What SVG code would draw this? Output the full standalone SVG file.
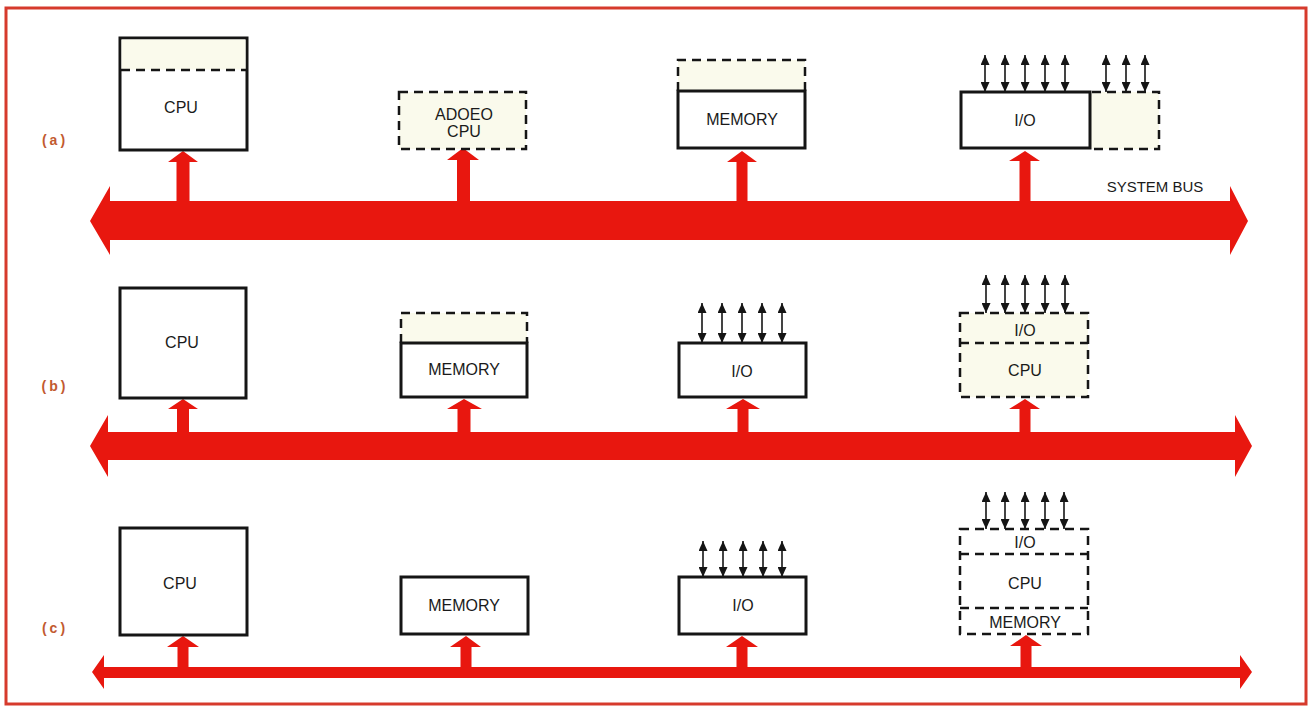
<svg xmlns="http://www.w3.org/2000/svg" width="1313" height="707" viewBox="0 0 1313 707">
<style>
.solid{fill:#fff;stroke:#151515;stroke-width:3}
.cream{fill:#fafaec;stroke:none}
.dash{fill:none;stroke:#151515;stroke-width:2.5;stroke-dasharray:9 6}
.lbl{font-family:"Liberation Sans",Arial,sans-serif;font-size:16px;fill:#1a1a1a;text-anchor:middle}
.row{font-family:"Liberation Sans",Arial,sans-serif;font-size:14px;fill:#c25a30;text-anchor:middle;letter-spacing:3px;font-weight:bold}
.bus{fill:#e8170f}
.io{stroke:#151515;stroke-width:1.6;marker-start:url(#ah);marker-end:url(#ah)}
</style>
<defs>
<marker id="ah" markerUnits="userSpaceOnUse" markerWidth="10" markerHeight="9" refX="10" refY="4.5" orient="auto-start-reverse">
<path d="M0,0 L10,4.5 L0,9 z" fill="#151515"/>
</marker>
</defs>
<rect x="6" y="8" width="1300" height="696" fill="#fff" stroke="#d63a2c" stroke-width="3"/>

<g id="row-labels">
<text class="row" x="55" y="145">(a)</text>
<text class="row" x="55" y="391">(b)</text>
<text class="row" x="55" y="633">(c)</text>
</g>

<g id="connectors">
<!-- buses -->
<polygon class="bus" points="90,221 110,186 110,201 1230,201 1230,186 1248,221 1230,255 1230,240 110,240 110,255"/>
<polygon class="bus" points="90,446 108,415 108,432 1235,432 1235,415 1252,446 1235,477 1235,460 108,460 108,477"/>
<polygon class="bus" points="92,672 104,655 104,667 1240,667 1240,655 1252,672 1240,689 1240,678 104,678 104,689"/>
<!-- row a stubs -->
<polygon class="bus" points="183,151 198,162 189.5,162 189.5,202 176.5,202 176.5,162 168,162"/>
<polygon class="bus" points="463,148 479,160 470,160 470,202 457,202 457,160 447,160"/>
<polygon class="bus" points="742,151 757,162 747.5,162 747.5,202 736.5,202 736.5,162 727,162"/>
<polygon class="bus" points="1025,151 1040,161 1030.5,161 1030.5,202 1019.5,202 1019.5,161 1009,161"/>
<!-- row b stubs -->
<polygon class="bus" points="183,399 198,409 189,409 189,433 177,433 177,409 168,409"/>
<polygon class="bus" points="464,399 482,409 470.5,409 470.5,433 457.5,433 457.5,409 447,409"/>
<polygon class="bus" points="743,399 760,409 748.5,409 748.5,433 737.5,433 737.5,409 726,409"/>
<polygon class="bus" points="1025,399 1040,409 1030.5,409 1030.5,433 1019.5,433 1019.5,409 1009,409"/>
<!-- row c stubs -->
<polygon class="bus" points="183,636 199,647 188.5,647 188.5,668 177.5,668 177.5,647 167,647"/>
<polygon class="bus" points="466,636 481,647 471.5,647 471.5,668 460.5,668 460.5,647 450,647"/>
<polygon class="bus" points="742,636 758,647 747.5,647 747.5,668 736.5,668 736.5,647 726,647"/>
<polygon class="bus" points="1026,635 1042,646 1031.5,646 1031.5,668 1020.5,668 1020.5,646 1010,646"/>
<!-- io lines a -->
<line class="io" x1="985" y1="92" x2="985" y2="55"/>
<line class="io" x1="1005" y1="92" x2="1005" y2="55"/>
<line class="io" x1="1025" y1="92" x2="1025" y2="55"/>
<line class="io" x1="1045" y1="92" x2="1045" y2="55"/>
<line class="io" x1="1065" y1="92" x2="1065" y2="55"/>
<line class="io" x1="1106" y1="92" x2="1106" y2="55"/>
<line class="io" x1="1126" y1="92" x2="1126" y2="55"/>
<line class="io" x1="1145" y1="92" x2="1145" y2="55"/>
<!-- io lines b -->
<line class="io" x1="702" y1="343" x2="702" y2="303"/>
<line class="io" x1="722" y1="343" x2="722" y2="303"/>
<line class="io" x1="742" y1="343" x2="742" y2="303"/>
<line class="io" x1="762" y1="343" x2="762" y2="303"/>
<line class="io" x1="782" y1="343" x2="782" y2="303"/>
<line class="io" x1="986" y1="313" x2="986" y2="275"/>
<line class="io" x1="1005" y1="313" x2="1005" y2="275"/>
<line class="io" x1="1025" y1="313" x2="1025" y2="275"/>
<line class="io" x1="1045" y1="313" x2="1045" y2="275"/>
<line class="io" x1="1065" y1="313" x2="1065" y2="275"/>
<!-- io lines c -->
<line class="io" x1="703" y1="577" x2="703" y2="541"/>
<line class="io" x1="723" y1="577" x2="723" y2="541"/>
<line class="io" x1="743" y1="577" x2="743" y2="541"/>
<line class="io" x1="763" y1="577" x2="763" y2="541"/>
<line class="io" x1="782" y1="577" x2="782" y2="541"/>
<line class="io" x1="986" y1="529" x2="986" y2="492"/>
<line class="io" x1="1005" y1="529" x2="1005" y2="492"/>
<line class="io" x1="1025" y1="529" x2="1025" y2="492"/>
<line class="io" x1="1045" y1="529" x2="1045" y2="492"/>
<line class="io" x1="1064" y1="529" x2="1064" y2="492"/>
</g>

<text class="lbl" x="1155" y="192" style="font-size:15px">SYSTEM BUS</text>

<!-- Row a -->
<g id="a-cpu">
<rect class="solid" x="120" y="38" width="127" height="112"/>
<rect class="cream" x="121.5" y="39.5" width="124" height="30"/>
<line class="dash" x1="121" y1="70" x2="246" y2="70"/>
<text class="lbl" x="181" y="113">CPU</text>
</g>
<g id="a-added-cpu">
<rect class="cream" x="399" y="92" width="127" height="57"/>
<rect class="dash" x="399" y="92" width="127" height="57"/>
<text class="lbl" x="464" y="120">ADOEO</text>
<text class="lbl" x="464" y="137">CPU</text>
</g>
<g id="a-memory">
<rect class="cream" x="678" y="60" width="127" height="31"/>
<path class="dash" d="M678,91 V60 H805 V91"/>
<rect class="solid" x="678" y="91" width="127" height="57"/>
<text class="lbl" x="742" y="125">MEMORY</text>
</g>
<g id="a-io">
<rect class="cream" x="1091" y="92" width="68" height="57"/>
<path class="dash" d="M1092,92 H1159 V149 H1090"/>
<rect class="solid" x="961" y="92" width="129" height="56"/>
<text class="lbl" x="1025" y="126">I/O</text>
</g>

<!-- Row b -->
<g id="b-cpu">
<rect class="solid" x="120" y="288" width="126" height="110"/>
<text class="lbl" x="182" y="348">CPU</text>
</g>
<g id="b-memory">
<rect class="cream" x="401" y="313" width="126" height="30"/>
<path class="dash" d="M401,343 V313 H527 V343"/>
<rect class="solid" x="401" y="343" width="126" height="54"/>
<text class="lbl" x="464" y="375">MEMORY</text>
</g>
<g id="b-io">
<rect class="solid" x="679" y="343" width="127" height="54"/>
<text class="lbl" x="742" y="377">I/O</text>
</g>
<g id="b-io-cpu">
<rect class="cream" x="960" y="313" width="128" height="84"/>
<rect class="dash" x="960" y="313" width="128" height="84"/>
<line class="dash" x1="960" y1="343" x2="1088" y2="343"/>
<text class="lbl" x="1025" y="336">I/O</text>
<text class="lbl" x="1025" y="376">CPU</text>
</g>

<!-- Row c -->
<g id="c-cpu">
<rect class="solid" x="120" y="528" width="127" height="107"/>
<text class="lbl" x="180" y="589">CPU</text>
</g>
<g id="c-memory">
<rect class="solid" x="401" y="577" width="127" height="57"/>
<text class="lbl" x="464" y="611">MEMORY</text>
</g>
<g id="c-io">
<rect class="solid" x="679" y="577" width="127" height="57"/>
<text class="lbl" x="743" y="611">I/O</text>
</g>
<g id="c-io-cpu-memory">
<rect class="dash" x="960" y="529" width="128" height="105"/>
<line class="dash" x1="960" y1="554" x2="1088" y2="554"/>
<line class="dash" x1="960" y1="608" x2="1088" y2="608"/>
<text class="lbl" x="1025" y="548">I/O</text>
<text class="lbl" x="1025" y="589">CPU</text>
<text class="lbl" x="1025" y="628">MEMORY</text>
</g>
</svg>
